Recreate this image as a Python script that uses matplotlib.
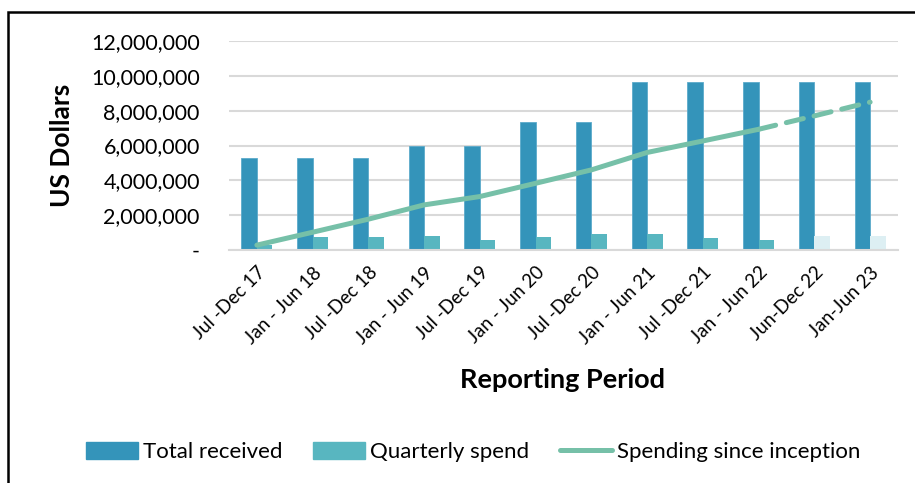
import numpy as np
import matplotlib
matplotlib.use("Agg")
import matplotlib.pyplot as plt
from matplotlib.patches import Rectangle, Patch
from matplotlib.lines import Line2D
from matplotlib.ticker import FuncFormatter

plt.rcParams['font.family'] = ['Lato', 'DejaVu Sans']

periods = ["Jul -Dec 17", "Jan - Jun 18", "Jul -Dec 18", "Jan - Jun 19", "Jul -Dec 19",
           "Jan - Jun 20", "Jul -Dec 20", "Jan - Jun 21", "Jul -Dec 21", "Jan - Jun 22",
           "Jun-Dec 22", "Jan-Jun 23"]
total_received = [5260000, 5260000, 5260000, 5970000, 5970000, 7360000, 7360000,
                  9650000, 9650000, 9650000, 9650000, 9650000]
quarterly_spend = [260000, 750000, 750000, 790000, 570000, 750000, 940000,
                   900000, 710000, 600000, 820000, 820000]
since_inception = [280000, 1020000, 1770000, 2590000, 3070000, 3830000, 4600000,
                   5600000, 6260000, 6930000, 7700000, 8490000]
n_actual = 10  # last two periods are projections

c_total = "#3494BA"
c_spend = "#58B6C0"
c_proj = "#DDEFF3"
c_line = "#76C0A8"

fig = plt.figure(figsize=(9.15, 4.83), dpi=100)
ax = fig.add_axes([229/915, 1-250/483, (898-229)/915, (250-41)/483])

x = np.arange(len(periods))
w = 0.28
ax.bar(x - w/2, total_received, width=w, color=c_total, edgecolor="#5BAACB", linewidth=0.6, zorder=2)
spend_colors = [c_spend]*n_actual + [c_proj]*(len(periods)-n_actual)
ax.bar(x + w/2, quarterly_spend, width=w, color=spend_colors, zorder=2)

ax.plot(x[:n_actual], since_inception[:n_actual], color=c_line, lw=3.6,
        solid_capstyle="round", zorder=3)
ax.plot(x[n_actual-1:], since_inception[n_actual-1:], color=c_line, lw=3.6,
        linestyle=(0, (3.5, 2.2)), dash_capstyle="round", zorder=3)

ax.set_xlim(-0.5, len(periods)-0.5)
ax.set_ylim(0, 12000000)
ax.set_yticks(np.arange(0, 12000001, 2000000))
ax.yaxis.set_major_formatter(FuncFormatter(lambda v, p: "-" if v == 0 else f"{int(v):,}"))
ax.yaxis.grid(True, color="#D9D9D9", lw=1.5, zorder=0)
ax.set_axisbelow(True)
for s in ["top", "right", "left"]:
    ax.spines[s].set_visible(False)
ax.spines["bottom"].set_color("#D9D9D9")
ax.spines["bottom"].set_linewidth(1.5)
ax.tick_params(axis="both", length=0)
ax.tick_params(axis="y", pad=21, labelsize=15.5)
ax.set_xticks(x)
ax.set_xticklabels(periods, rotation=45, ha="right", rotation_mode="anchor", fontsize=13.5)
ax.tick_params(axis="x", pad=10)

fig.text(62/915, 1-145/483, "US Dollars", rotation=90, fontsize=19, fontweight="bold",
         ha="center", va="center")
fig.text(562/915, 1-380/483, "Reporting Period", fontsize=19.5, fontweight="bold",
         ha="center", va="center")

handles = [Patch(color=c_total), Patch(color=c_spend),
           Line2D([0], [0], color=c_line, lw=3.6, solid_capstyle="round")]
fig.legend(handles, ["Total received", "Quarterly spend", "Spending since inception"],
           loc="center", bbox_to_anchor=(473/915, 1-452/483), ncol=3, frameon=False,
           fontsize=16, handlelength=2.35, handleheight=0.85, handletextpad=0.2,
           columnspacing=1.4)

fig.patches.append(Rectangle((8/915, -0.2), 1.3, 1.2-12/483, transform=fig.transFigure,
                             fill=False, edgecolor="black", lw=1.8))

fig.savefig("out.png", dpi=100)
